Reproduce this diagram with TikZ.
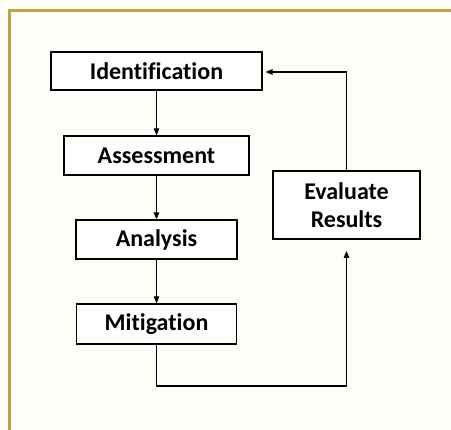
\documentclass[tikz,border=0pt]{standalone}
\usepackage{fontspec}
\setmainfont{Carlito}[Ligatures=NoCommon]
\usetikzlibrary{arrows.meta}
\definecolor{framecol}{RGB}{184,166,72}
\definecolor{bgcol}{RGB}{254,253,248}
\begin{document}
\begin{tikzpicture}[x=1pt,y=1pt,
  stepbox/.style={draw=black,line width=1.3pt,fill=white,inner sep=0pt,
    font=\fontsize{24}{28}\selectfont\bfseries,align=center},
  flow/.style={line width=1.1pt,-{Triangle[length=7pt,width=5.5pt]}}]
\useasboundingbox (0,0) rectangle (451,-430);
\fill[bgcol] (0,0) rectangle (451,-430);
\draw[framecol,line width=3pt] (9.7,-430) -- (9.7,-10.5) -- (451,-10.5);
\node[stepbox,minimum width=211pt,minimum height=38pt] (id) at (156.5,-71) {Identification};
\node[stepbox,minimum width=185pt,minimum height=39pt] (as) at (156.5,-155.5) {Assessment};
\node[stepbox,minimum width=161pt,minimum height=39pt] (an) at (156.5,-239.5) {Analysis};
\node[stepbox,minimum width=160pt,minimum height=40pt] (mi) at (156.5,-324) {Mitigation};
\node[stepbox,minimum width=147pt,minimum height=68pt] (ev) at (346.5,-205) {Evaluate\\Results};
\coordinate (loopbot) at (346.5,-386);
\coordinate (evin) at (346.5,-251);
\coordinate (idin) at (265.5,-72);
\draw[flow] (id) -- (as);
\draw[flow] (as) -- (an);
\draw[flow] (an) -- (mi);
\draw[flow] (mi.south) |- (loopbot) -- (evin);
\draw[flow] (ev.north) |- (idin);
\end{tikzpicture}
\end{document}
